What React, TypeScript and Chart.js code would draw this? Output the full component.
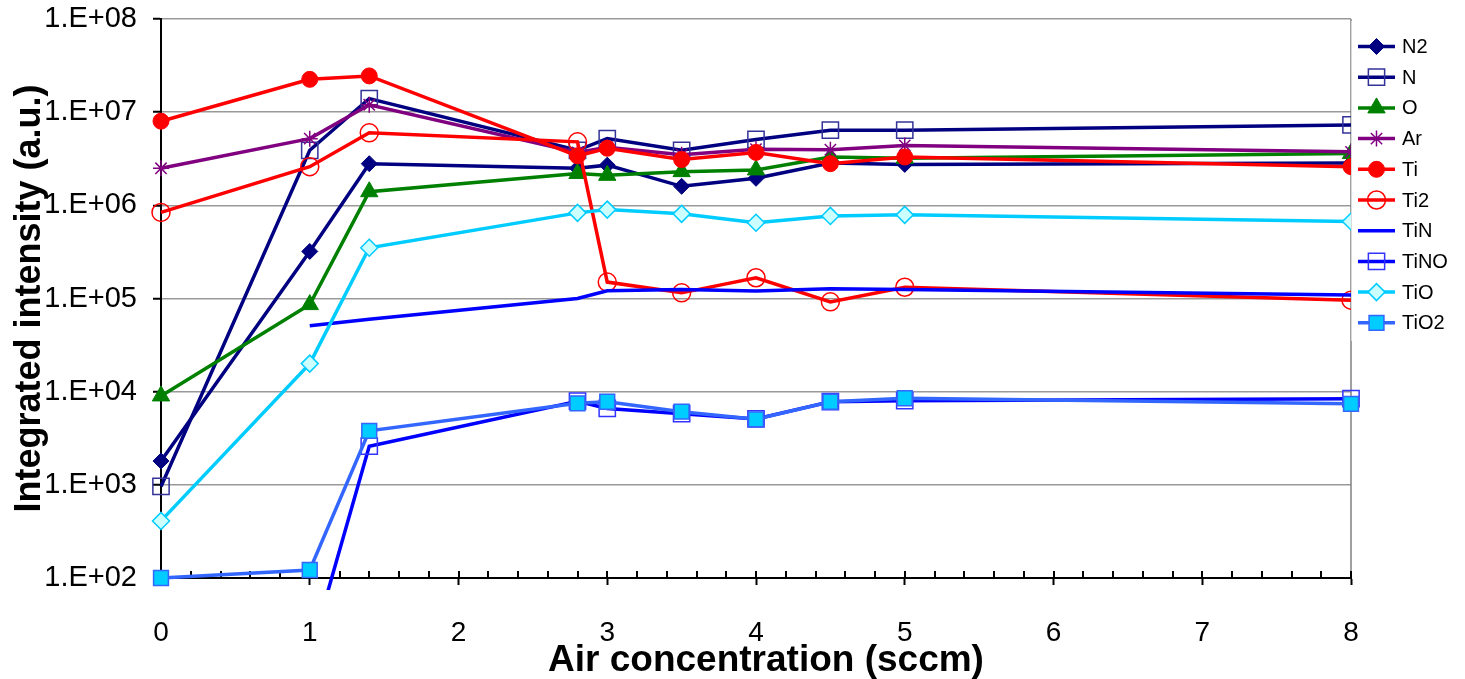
import React, { useEffect, useRef } from 'react';
import { Chart, registerables } from 'chart.js';
import { drawPoint } from 'chart.js/helpers';

Chart.register(...registerables);

// ---- data ----
const xValues = [0, 1, 1.4, 2.8, 3, 3.5, 4, 4.5, 5, 8];
const seriesNames = ['N2', 'N', 'O', 'Ar', 'Ti', 'Ti2', 'TiN', 'TiNO', 'TiO', 'TiO2'];

const n2 = [1.8e3, 3.2e5, 2.8e6, 2.5e6, 2.7e6, 1.6e6, 1.95e6, 2.85e6, 2.75e6, 2.85e6];
const nAtom = [9.6e2, 3.9e6, 1.4e7, 3.9e6, 5.2e6, 3.9e6, 5.1e6, 6.4e6, 6.4e6, 7.3e6];
const oAtom = [9.0e3, 8.6e4, 1.4e6, 2.2e6, 2.1e6, 2.3e6, 2.4e6, 3.3e6, 3.2e6, 3.6e6];
const ar = [2.5e6, 5.2e6, 1.2e7, 3.7e6, 4.2e6, 3.5e6, 4.0e6, 3.95e6, 4.4e6, 3.75e6];
const ti = [8.0e6, 2.25e7, 2.45e7, 3.4e6, 4.1e6, 3.1e6, 3.7e6, 2.8e6, 3.3e6, 2.6e6];
const ti2 = [8.4e5, 2.6e6, 6.0e6, 4.8e6, 1.5e5, 1.15e5, 1.67e5, 9.2e4, 1.32e5, 9.6e4];
const tiN = [null, 5.1e4, 6.0e4, 1.0e5, 1.21e5, 1.25e5, 1.2e5, 1.27e5, 1.25e5, 1.09e5];
const tiNO = [null, 15, 2.6e3, 7.9e3, 6.6e3, 5.8e3, 5.1e3, 7.8e3, 8.0e3, 8.4e3];
const tiO = [4.1e2, 2.0e4, 3.5e5, 8.3e5, 9.0e5, 8.1e5, 6.5e5, 7.7e5, 7.9e5, 6.7e5];
const tiO2 = [1.0e2, 1.22e2, 3.8e3, 7.5e3, 7.8e3, 6.1e3, 5.05e3, 7.8e3, 8.5e3, 7.4e3];

const seriesValues = [n2, nAtom, oAtom, ar, ti, ti2, tiN, tiNO, tiO, tiO2];

const xTicks = [0, 1, 2, 3, 4, 5, 6, 7, 8];
const xTickLabels = ['0', '1', '2', '3', '4', '5', '6', '7', '8'];
const xMinorStep = 0.2;
const yTicks = [1e2, 1e3, 1e4, 1e5, 1e6, 1e7, 1e8];
const yTickLabels = ['1.E+02', '1.E+03', '1.E+04', '1.E+05', '1.E+06', '1.E+07', '1.E+08'];
const xTitle = 'Air concentration (sccm)';
const yTitle = 'Integrated intensity (a.u.)';

// ---- styles ----
const FONT = "'Liberation Sans', Arial, Helvetica, sans-serif";
const LINE_W = 3.5;
const seriesStyles = [
  { line: '#000080', pointStyle: 'rectRot', radius: 8, fill: '#000080', border: '#000080', bw: 1 },
  { line: '#000080', pointStyle: 'rect', radius: 11.5, fill: 'rgba(0,0,0,0)', border: '#333399', bw: 1.5 },
  { line: '#008000', pointStyle: 'triangle', radius: 10, fill: '#008000', border: '#008000', bw: 1 },
  { line: '#800080', pointStyle: 'star', radius: 8, fill: 'rgba(0,0,0,0)', border: '#800080', bw: 1.5 },
  { line: '#FF0000', pointStyle: 'circle', radius: 8, fill: '#FF0000', border: '#FF0000', bw: 1 },
  { line: '#FF0000', pointStyle: 'circle', radius: 9, fill: 'rgba(0,0,0,0)', border: '#FF0000', bw: 1.5 },
  { line: '#0000FF', pointStyle: 'circle', radius: 0, fill: '#0000FF', border: '#0000FF', bw: 0 },
  { line: '#0000FF', pointStyle: 'rect', radius: 11.5, fill: 'rgba(0,0,0,0)', border: '#3333FF', bw: 1.5 },
  { line: '#00CCFF', pointStyle: 'rectRot', radius: 8.5, fill: '#CCFFFF', border: '#00CCFF', bw: 1.5 },
  { line: '#3366FF', pointStyle: 'rect', radius: 10.5, fill: '#00CCFF', border: '#3366FF', bw: 1.5 },
];

const decorPlugin = {
  id: 'decor',
  beforeDatasetsDraw(chart: any) {
    const { ctx, chartArea } = chart;
    const xs = chart.scales.x;
    ctx.save();
    // right plot border
    ctx.strokeStyle = '#808080';
    ctx.lineWidth = 1.5;
    ctx.beginPath();
    ctx.moveTo(chartArea.right, chartArea.top);
    ctx.lineTo(chartArea.right, chartArea.bottom);
    ctx.stroke();
    // inner tick marks on x axis
    ctx.strokeStyle = '#000';
    ctx.lineWidth = 2;
    const n = Math.round((xs.max - xs.min) / xMinorStep);
    for (let k = 1; k <= n; k++) {
      const px = Math.round(xs.getPixelForValue(xs.min + k * xMinorStep));
      ctx.beginPath();
      ctx.moveTo(px, chartArea.bottom);
      ctx.lineTo(px, chartArea.bottom - 7);
      ctx.stroke();
    }
    ctx.restore();
  },
  afterDraw(chart: any) {
    const { ctx, chartArea } = chart;
    ctx.save();
    // legend box
    const lx = chartArea.right;
    const top = chartArea.top + 2;
    ctx.fillStyle = '#ffffff';
    ctx.fillRect(lx + 0.5, top, chart.width - lx, 320);
    ctx.strokeStyle = '#d9d9d9';
    ctx.lineWidth = 1;
    ctx.beginPath();
    ctx.moveTo(lx + 0.5, top);
    ctx.lineTo(lx + 0.5, top + 320);
    ctx.stroke();
    chart.data.datasets.forEach((ds: any, i: number) => {
      const y = chartArea.top + 27.5 + i * 30.7;
      ctx.strokeStyle = ds.borderColor;
      ctx.lineWidth = LINE_W;
      ctx.beginPath();
      ctx.moveTo(lx + 7, y);
      ctx.lineTo(lx + 44, y);
      ctx.stroke();
      if (ds.pointRadius > 0) {
        ctx.fillStyle = ds.pointBackgroundColor;
        ctx.strokeStyle = ds.pointBorderColor;
        ctx.lineWidth = ds.pointBorderWidth;
        drawPoint(ctx, { pointStyle: ds.pointStyle, radius: ds.pointRadius, rotation: 0, borderWidth: ds.pointBorderWidth }, lx + 25.5, y);
      }
      ctx.fillStyle = '#000';
      ctx.font = `20px ${FONT}`;
      ctx.textAlign = 'left';
      ctx.textBaseline = 'middle';
      ctx.fillText(ds.label, lx + 51, y + 1);
    });
    // x axis title
    ctx.fillStyle = '#000';
    ctx.font = `bold 37px ${FONT}`;
    ctx.textAlign = 'center';
    ctx.textBaseline = 'middle';
    ctx.fillText(xTitle, (chartArea.left + chartArea.right) / 2 + 10, chart.height - 18);
    ctx.restore();
  },
};

export default function App() {
  const ref = useRef<HTMLCanvasElement | null>(null);
  useEffect(() => {
    if (!ref.current) return;
    const datasets = seriesValues.map((vals, i) => {
      const st = seriesStyles[i];
      return {
        label: seriesNames[i],
        data: xValues.map((x, j) => ({ x, y: vals[j] })),
        borderColor: st.line,
        backgroundColor: st.line,
        borderWidth: LINE_W,
        pointStyle: st.pointStyle,
        pointRadius: st.radius,
        pointHoverRadius: st.radius,
        pointBackgroundColor: st.fill,
        pointBorderColor: st.border,
        pointBorderWidth: st.bw,
        fill: false,
        tension: 0,
        spanGaps: false,
        order: 20 - i,
        clip: { left: 20, top: 20, right: 20, bottom: 12 },
      };
    });
    const chart = new Chart(ref.current, {
      type: 'line',
      data: { datasets } as any,
      options: {
        animation: false,
        responsive: false,
        devicePixelRatio: 1,
        events: [],
        layout: { padding: { left: 0, top: 19, right: 114, bottom: 0 } },
        plugins: { legend: { display: false }, tooltip: { enabled: false } },
        scales: {
          x: {
            type: 'linear',
            min: 0,
            max: 8,
            afterBuildTicks: (s: any) => { s.ticks = xTicks.map((v) => ({ value: v })); },
            afterFit: (s: any) => { s.height = 101; s.paddingLeft = 0; s.paddingRight = 0; },
            ticks: {
              callback: (_v: any, i: number) => xTickLabels[i],
              font: { family: FONT, size: 28 },
              color: '#000',
              padding: 31,
              maxRotation: 0,
              autoSkip: false,
            },
            grid: { drawOnChartArea: false, drawTicks: true, tickLength: 7, tickColor: '#000', tickWidth: 2 },
            border: { display: true, color: '#000', width: 2 },
          },
          y: {
            type: 'logarithmic',
            min: 100,
            max: 1e8,
            afterBuildTicks: (s: any) => { s.ticks = yTicks.map((v) => ({ value: v })); },
            afterFit: (s: any) => { s.width = 161; s.paddingTop = 0; s.paddingBottom = 0; },
            ticks: {
              callback: (_v: any, i: number) => yTickLabels[i],
              font: { family: FONT, size: 29 },
              color: '#000',
              padding: 16,
              autoSkip: false,
            },
            grid: { color: '#999999', lineWidth: 1.5, tickLength: 8, tickColor: '#000', tickWidth: 2 },
            border: { display: true, color: '#000', width: 2 },
            title: {
              display: true,
              text: yTitle,
              font: { family: FONT, size: 36, weight: 'bold' },
              color: '#000',
              padding: { top: 8, bottom: 0 },
            },
          },
        },
      } as any,
      plugins: [decorPlugin],
    });
    return () => chart.destroy();
  }, []);
  return (
    <div style={{ position: 'absolute', left: 0, top: 0, width: 1465, height: 679, background: '#fff' }}>
      <canvas ref={ref} width={1465} height={679} />
    </div>
  );
}
